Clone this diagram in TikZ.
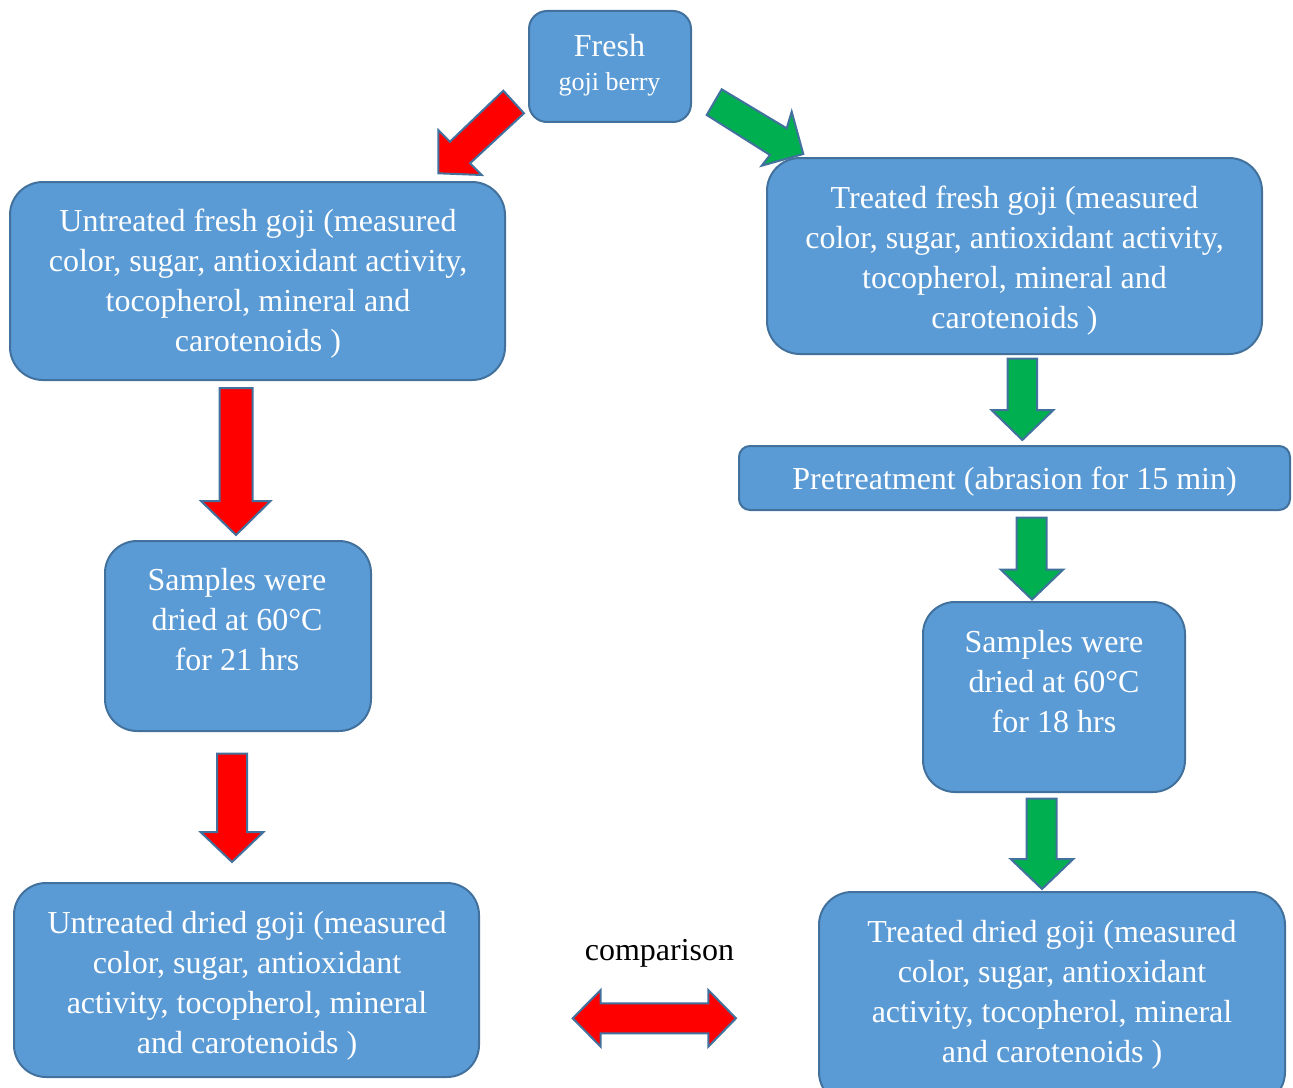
\documentclass[tikz,border=0pt]{standalone}
\usepackage{fontspec}
\setmainfont{Liberation Serif}
\definecolor{boxfill}{HTML}{5B9BD5}
\definecolor{boxline}{HTML}{41719C}
\definecolor{arrred}{HTML}{FF0000}
\definecolor{arrgreen}{HTML}{00B050}
\newcommand\fst{\rule{0pt}{20pt}}
\begin{document}
\begin{tikzpicture}[x=0.75pt,y=-0.75pt,
  box/.style={draw=boxline, fill=boxfill, line width=1.5pt, inner sep=0pt},
  txt/.style={text=white, font=\fontsize{24}{30}\selectfont, align=center, inner sep=0pt, anchor=north},
  btxt/.style={text=white, font=\fontsize{24}{30}\selectfont, inner sep=0pt, anchor=base},
  redblk/.style={draw=boxline, fill=arrred, line width=1.5pt, line join=miter},
  greenblk/.style={draw=boxline, fill=arrgreen, line width=1.5pt, line join=miter},
]
\useasboundingbox (0,0) rectangle (1293,1088);
\clip (0,0) rectangle (1293,1088);

% boxes
\node[box, minimum width={162*0.75pt}, minimum height={111*0.75pt}, rounded corners={18*0.75pt}] (fresh) at (610,66.5) {};
\node[box, minimum width={495*0.75pt}, minimum height={198*0.75pt}, rounded corners={33*0.75pt}] (ufresh) at (257.5,281) {};
\node[box, minimum width={495*0.75pt}, minimum height={196*0.75pt}, rounded corners={33*0.75pt}] (tfresh) at (1014.5,256) {};
\node[box, minimum width={551*0.75pt}, minimum height={64*0.75pt}, rounded corners={11*0.75pt}] (pretreat) at (1014.5,478) {};
\node[box, minimum width={266*0.75pt}, minimum height={190*0.75pt}, rounded corners={32*0.75pt}] (lsamp) at (238,636) {};
\node[box, minimum width={262*0.75pt}, minimum height={190*0.75pt}, rounded corners={32*0.75pt}] (rsamp) at (1054,697) {};
\node[box, minimum width={465*0.75pt}, minimum height={194*0.75pt}, rounded corners={32*0.75pt}] (udried) at (246.5,980) {};
\node[box, minimum width={466*0.75pt}, minimum height={213*0.75pt}, rounded corners={33*0.75pt}] (tdried) at (1052,998.5) {};

% texts
\node[btxt] (freshA) at (609.5,57) {Fresh};
\node[btxt, font=\fontsize{19.5}{24}\selectfont] (freshB) at (609.5,91) {goji berry};
\node[txt] (ufreshT) at (258,205) {\fst Untreated fresh goji (measured\\color, sugar, antioxidant activity,\\tocopherol, mineral and\\carotenoids )};
\node[txt] (tfreshT) at (1014.5,181.8) {\fst Treated fresh goji (measured\\color, sugar, antioxidant activity,\\tocopherol, mineral and\\carotenoids )};
\node[btxt] (pretreatT) at (1014.5,489.5) {Pretreatment (abrasion for 15 min)};
\node[txt] (lsampT) at (237,563.3) {\fst Samples were\\dried at 60°C\\for 21 hrs};
\node[txt] (rsampT) at (1054,625.8) {\fst Samples were\\dried at 60°C\\for 18 hrs};
\node[txt] (udriedT) at (247,906.8) {\fst Untreated dried goji (measured\\color, sugar, antioxidant\\activity, tocopherol, mineral\\and carotenoids )};
\node[txt] (tdriedT) at (1052,915.3) {\fst Treated dried goji (measured\\color, sugar, antioxidant\\activity, tocopherol, mineral\\and carotenoids )};
\node[btxt, text=black] (cmp) at (659.5,960) {comparison};

% block arrows
\draw[redblk] (503.3,90.7) -- (524,113.3) -- (470,163.3) -- (481.7,175) -- (438.3,173.3) -- (438.3,130) -- (450,141.7) -- cycle;
\draw[greenblk] (721.7,89.3) -- (786.7,128.3) -- (791.7,111.7) -- (803.3,154) -- (761.7,165.7) -- (770,155) -- (706.7,115) -- cycle;
\draw[redblk] (219.5,388) -- (252.5,388) -- (252.5,501) -- (270.5,501) -- (236,535) -- (201,501) -- (219.5,501) -- cycle;
\draw[redblk] (217,753.5) -- (247,753.5) -- (247,832) -- (263.5,832) -- (232,862) -- (200.5,832) -- (217,832) -- cycle;
\draw[greenblk] (1007.5,358.5) -- (1037,358.5) -- (1037,410) -- (1053.5,410) -- (1022.3,440) -- (991.5,410) -- (1007.5,410) -- cycle;
\draw[greenblk] (1016.7,517.5) -- (1046.7,517.5) -- (1046.7,569.5) -- (1063.3,569.5) -- (1032,599.5) -- (1000.7,569.5) -- (1016.7,569.5) -- cycle;
\draw[greenblk] (1026.7,798.5) -- (1056.7,798.5) -- (1056.7,859) -- (1073.3,859) -- (1042,889) -- (1010.7,859) -- (1026.7,859) -- cycle;
\draw[redblk] (572.7,1018.3) -- (600.7,990) -- (600.7,1003.3) -- (708.3,1003.3) -- (708.3,990) -- (736,1018.3) -- (708.3,1046.7) -- (708.3,1033.3) -- (600.7,1033.3) -- (600.7,1046.7) -- cycle;
\end{tikzpicture}
\end{document}
